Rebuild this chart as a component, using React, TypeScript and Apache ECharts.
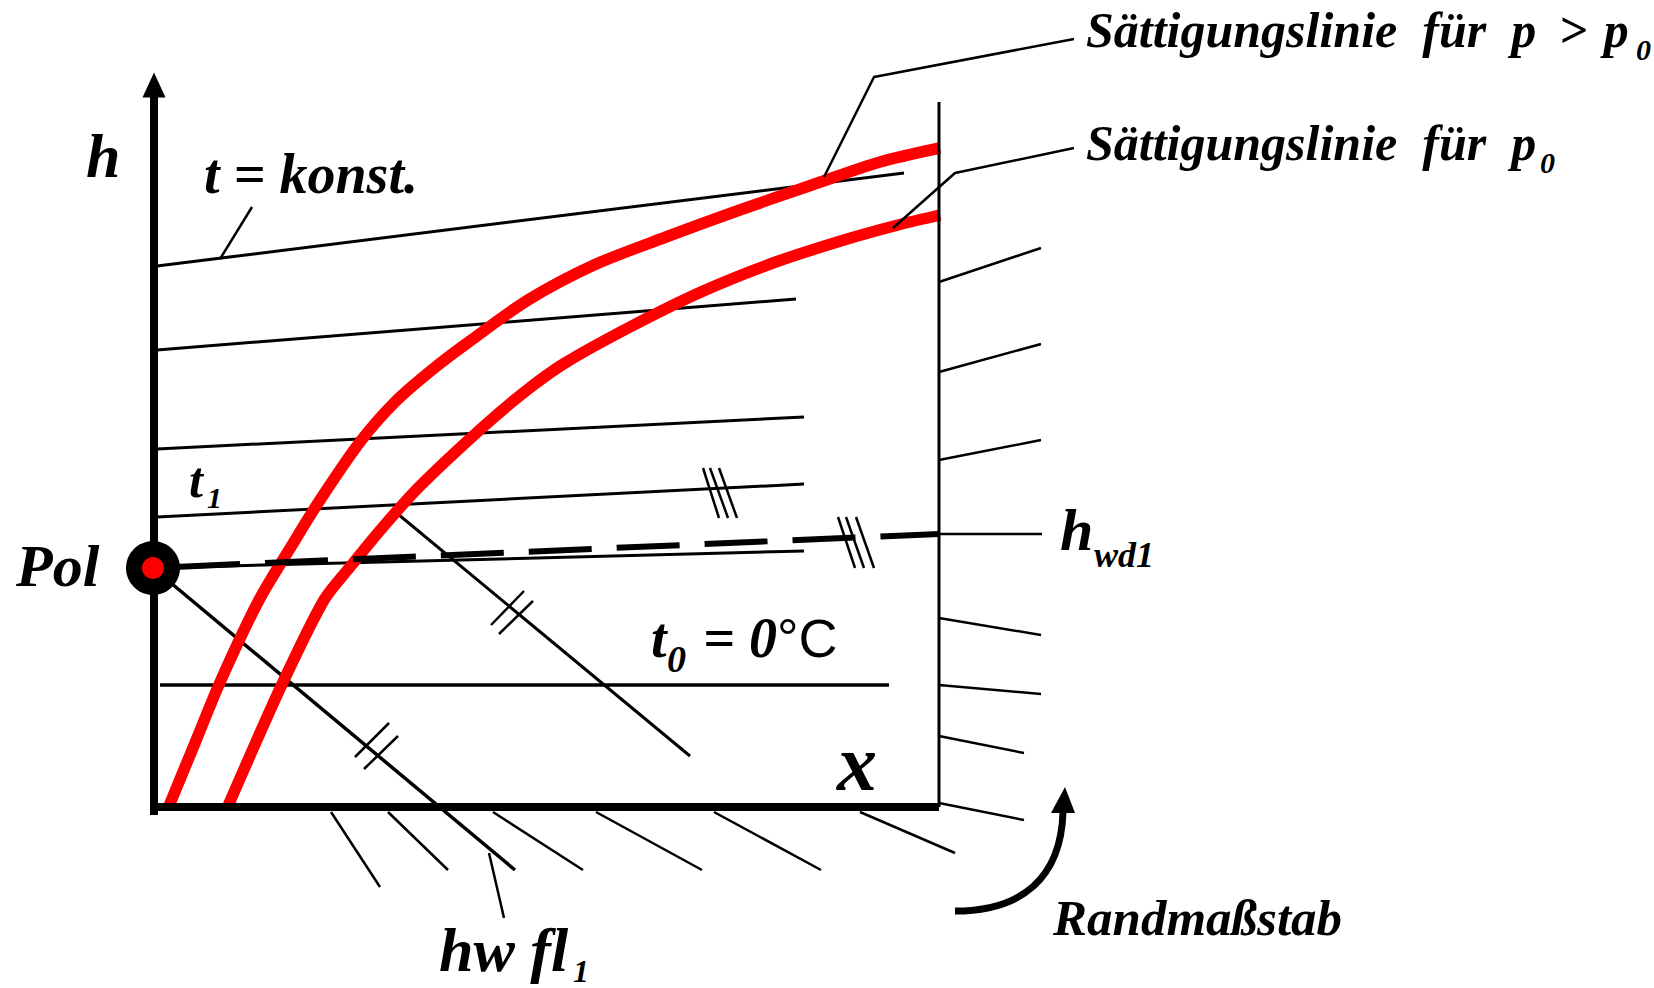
import React, { useEffect, useRef } from "react";
import * as echarts from "echarts";

const WIDTH = 1654;
const HEIGHT = 988;

// ---- drawing data (x = Wassergehalt axis, y = Enthalpie axis, downward units) ----
const hAxisLine = [[154, 97], [154, 811]];
const xAxisLine = [[150, 807], [939, 807]];
const scaleFrameLine = [[939, 102], [939, 807]];
const hArrowTip = [[154, 85]];

const isotherms = [
  [[157, 266], [904, 173]],
  [[157, 350], [796, 299]],
  [[157, 449], [804, 417]],
  [[157, 517], [804, 484]],
  [[153, 568], [804, 551]],
];
const t0Line = [[160, 685], [889, 685]];

const satHigh = [
  [169, 806], [195, 743], [221, 680], [259, 600], [289, 550], [320, 500],
  [360, 442], [395, 402], [433, 369], [470, 341], [528, 300], [594, 265],
  [666, 237], [737, 211], [809, 186], [880, 162], [940, 148],
];
const satLow = [
  [228, 806], [256, 742], [284, 680], [324, 600], [350, 567], [383, 527],
  [419, 487], [483, 427], [527, 390], [565, 363], [630, 327], [701, 292],
  [773, 263], [844, 240], [898, 225], [940, 215],
];

const polPoint = [[153, 568]];
const hwd1Solid = [[153, 568], [240, 564]];
const hwd1Dashed = [[265, 563], [939, 534]];
const hwd1Leader = [[939, 534], [1042, 534]];
const hwfl1Line = [[153, 568], [515, 870]];
const mixLine = [[393, 510], [690, 756]];

const hatches = [
  [[355, 757], [389, 723]], [[364, 769], [398, 736]],
  [[491, 625], [524, 591]], [[499, 634], [533, 601]],
  [[703, 468], [719, 518]], [[710, 468], [728, 518]], [[719, 468], [737, 518]],
  [[838, 517], [855, 568]], [[846, 517], [864, 568]], [[856, 517], [874, 568]],
];

const bottomScale = [
  [[331, 812], [380, 887]], [[388, 812], [448, 870]], [[493, 812], [583, 870]],
  [[596, 812], [702, 870]], [[714, 812], [821, 870]], [[860, 812], [955, 853]],
];
const rightScale = [
  [[939, 282], [1041, 248]], [[939, 372], [1041, 344]], [[939, 460], [1041, 440]],
  [[939, 618], [1041, 635]], [[939, 685], [1041, 694]], [[939, 736], [1024, 753]],
  [[939, 803], [1024, 820]],
];

const leaders = [
  [[252, 207], [220, 259]],
  [[1074, 39], [874, 77], [824, 177]],
  [[1074, 148], [955, 173], [893, 228]],
  [[489, 853], [504, 918]],
];

const randArrowCurve = [[955, 911], [1022, 911], [1061, 878], [1063, 812]];
const randArrowHead = [[1051, 813], [1075, 813], [1065, 787]];

const SERIF = "'Liberation Serif', 'Times New Roman', serif";
const SANS = "'Liberation Sans', Arial, sans-serif";

function seg(data: number[][], width: number, color = "#000", z = 2, extra: any = {}, smooth: any = false) {
  return {
    type: "line",
    data,
    symbol: "none",
    silent: true,
    smooth,
    z,
    lineStyle: { color, width, cap: "butt", join: "round", ...extra },
  };
}

function txt(text: string, x: number, base: number, size: number, opts: any = {}) {
  const family = opts.family || SERIF;
  const k = family === SANS ? 0.3465 : 0.3375;
  return {
    type: "text",
    x,
    y: base - k * size,
    z: 100,
    style: {
      text,
      fontSize: size,
      fontFamily: family,
      fontStyle: opts.italic === false ? "normal" : "italic",
      fontWeight: opts.bold === false ? "normal" : "bold",
      fill: "#000",
      align: "left",
      verticalAlign: "middle",
    },
  };
}

export default function App() {
  const ref = useRef<HTMLDivElement>(null);

  useEffect(() => {
    document.body.style.margin = "0";
    const chart = echarts.init(ref.current!, null, { renderer: "svg" });

    const series: any[] = [];
    isotherms.forEach((l) => series.push(seg(l, 3)));
    series.push(seg(t0Line, 3.5));
    series.push(seg(hwfl1Line, 3.5));
    series.push(seg(mixLine, 3));
    series.push(seg(satHigh, 11.5, "#ff0000", 5, {}, 0.3));
    series.push(seg(satLow, 11.5, "#ff0000", 5, {}, 0.3));
    series.push(seg(hwd1Solid, 6, "#000", 6));
    series.push(seg(hwd1Dashed, 6, "#000", 6, { type: [63, 25] }));
    series.push(seg(hwd1Leader, 2.5));
    hatches.forEach((l) => series.push(seg(l, 2.5, "#000", 7)));
    bottomScale.forEach((l) => series.push(seg(l, 2.5)));
    rightScale.forEach((l) => series.push(seg(l, 2.5)));
    leaders.forEach((l) => series.push(seg(l, 2.5, "#000", 7)));
    series.push(seg(scaleFrameLine, 3, "#000", 8));
    series.push(seg(hAxisLine, 8, "#000", 8, { cap: "square" }));
    series.push(seg(xAxisLine, 8, "#000", 8));
    series.push({
      type: "scatter",
      data: hArrowTip,
      symbol: "triangle",
      symbolSize: [23, 25],
      itemStyle: { color: "#000", opacity: 1 },
      silent: true,
      z: 9,
    });
    series.push({
      type: "scatter",
      data: polPoint,
      symbol: "circle",
      symbolSize: 54,
      itemStyle: { color: "#000", opacity: 1 },
      silent: true,
      z: 10,
    });
    series.push({
      type: "scatter",
      data: polPoint,
      symbol: "circle",
      symbolSize: 22,
      itemStyle: { color: "#ff0000", opacity: 1 },
      silent: true,
      z: 11,
    });

    chart.setOption({
      animation: false,
      backgroundColor: "#fff",
      grid: { left: 0, right: 0, top: 0, bottom: 0 },
      xAxis: { type: "value", min: 0, max: WIDTH, show: false },
      yAxis: { type: "value", min: 0, max: HEIGHT, inverse: true, show: false },
      series,
    });

    const px = (p: number[]) => chart.convertToPixel({ gridIndex: 0 }, p) as number[];
    const [a0, a1, a2, a3] = randArrowCurve.map(px);

    const graphic: any[] = [
      {
        type: "bezierCurve",
        z: 50,
        shape: { x1: a0[0], y1: a0[1], cpx1: a1[0], cpy1: a1[1], cpx2: a2[0], cpy2: a2[1], x2: a3[0], y2: a3[1] },
        style: { stroke: "#000", lineWidth: 7, fill: null },
      },
      {
        type: "polygon",
        z: 50,
        shape: { points: randArrowHead.map(px) },
        style: { fill: "#000" },
      },
      txt("h", 86, 177, 62),
      txt("t = konst.", 204, 193, 56),
      txt("Sättigungslinie\u00a0 für\u00a0 p \u2009> \u200ap", 1086, 47, 50),
      txt("0", 1636, 60, 30),
      txt("Sättigungslinie\u00a0 für\u00a0 p", 1086, 160, 50),
      txt("0", 1540, 173, 30),
      txt("t", 189, 497, 50),
      txt("1", 207, 508, 30),
      txt("Pol", 16, 586, 60),
      txt("t", 651, 657, 56),
      txt("0", 667, 672, 38),
      txt("= 0", 703, 657, 56),
      txt("°C", 777, 657, 54, { family: SANS, italic: false, bold: false }),
      txt("x", 837, 790, 80),
      txt("h", 1060, 550, 60),
      txt("wd1", 1094, 567, 36),
      txt("hw fl", 439, 971, 62),
      txt("1", 573, 982, 32),
      txt("Randmaßstab", 1053, 935, 51),
    ];
    chart.setOption({ graphic });

    return () => chart.dispose();
  }, []);

  return <div ref={ref} style={{ width: WIDTH, height: HEIGHT }} />;
}
